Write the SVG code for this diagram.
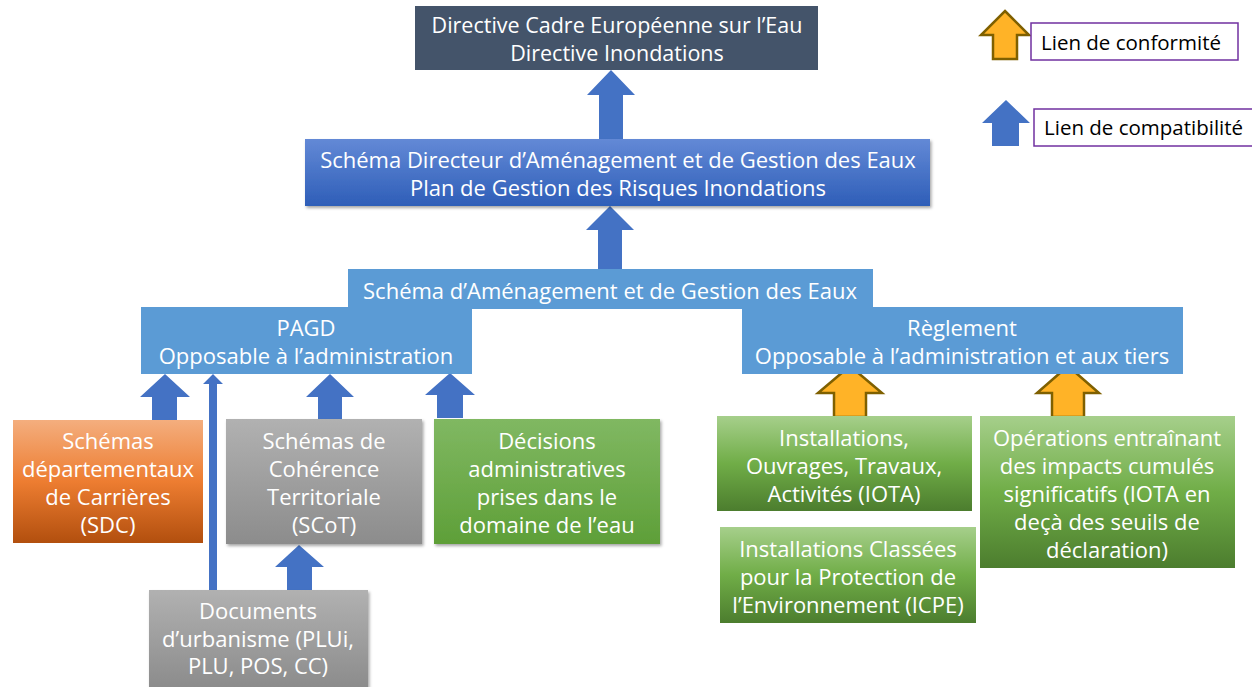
<svg xmlns="http://www.w3.org/2000/svg" width="1252" height="687" viewBox="0 0 1252 687">
<defs>
<linearGradient id="gBlue" x1="0" y1="0" x2="0" y2="1"><stop offset="0" stop-color="#6389D6"/><stop offset="1" stop-color="#2E5EB8"/></linearGradient>
<linearGradient id="gOrange" x1="0" y1="0" x2="0" y2="1"><stop offset="0" stop-color="#F4AE7E"/><stop offset="0.5" stop-color="#ED7D31"/><stop offset="1" stop-color="#B24F0E"/></linearGradient>
<linearGradient id="gGray" x1="0" y1="0" x2="0" y2="1"><stop offset="0" stop-color="#B1B1B1"/><stop offset="1" stop-color="#8C8C8C"/></linearGradient>
<linearGradient id="gGreenFlat" x1="0" y1="0" x2="0" y2="1"><stop offset="0" stop-color="#80B862"/><stop offset="1" stop-color="#5E9F38"/></linearGradient>
<linearGradient id="gGreen" x1="0" y1="0" x2="0" y2="1"><stop offset="0" stop-color="#A6CF8B"/><stop offset="0.5" stop-color="#70AD47"/><stop offset="1" stop-color="#4C7D2E"/></linearGradient>
<filter id="sh" x="-10%" y="-10%" width="120%" height="130%"><feDropShadow dx="1.5" dy="2" stdDeviation="1.5" flood-color="#000" flood-opacity="0.35"/></filter>
</defs>
<style>
text{font-family:"Open Sans","Noto Sans","DejaVu Sans",sans-serif;font-size:22px;fill:#fff;text-anchor:middle}
.top{font-size:21.5px}
.leg{font-family:"Open Sans","Liberation Sans",sans-serif;font-size:20.5px;fill:#000;text-anchor:start}
.light{fill:#5B9BD5}
.blueArrow{fill:#4472C4}
.orangeArrow{fill:#FFB327;stroke:#7F6000;stroke-width:2.5;stroke-linejoin:miter}
.legbox{fill:#fff;stroke:#7030A0;stroke-width:1.5}
</style>

<g id="connectors">
<polygon class="blueArrow" points="611,70 635,95 623,95 623,139 599,139 599,95 587,95"/>
<polygon class="blueArrow" points="610,206 634,230 622,230 622,269 598,269 598,230 586,230"/>
<polygon class="blueArrow" points="165,374 190,397 177,397 177,420 152,420 152,397 140,397"/>
<polygon class="blueArrow" points="213,374 223,384 217,384 217,591 209,591 209,384 203,384"/>
<polygon class="blueArrow" points="330,374 354,397 342,397 342,419 318,419 318,397 306,397"/>
<polygon class="blueArrow" points="450,373 475,395 463,395 463,418 437,418 437,395 425,395"/>
<polygon class="blueArrow" points="299,545 324,567 312,567 312,591 287,591 287,567 275,567"/>
<polygon class="orangeArrow" points="850,366 882,393 866,393 866,417 834,417 834,393 818,393"/>
<polygon class="orangeArrow" points="1068,366 1099,393 1084,393 1084,417 1052,417 1052,393 1037,393"/>
</g>

<g id="node-dce">
<rect x="415" y="6" width="403" height="64" fill="#44546A"/>
<text class="top" x="617" y="33">Directive Cadre Européenne sur l’Eau</text>
<text class="top" x="617" y="61">Directive Inondations</text>
</g>

<g id="node-sdage">
<rect x="305" y="139" width="625" height="67" fill="url(#gBlue)" filter="url(#sh)"/>
<text x="618" y="168">Schéma Directeur d’Aménagement et de Gestion des Eaux</text>
<text x="618" y="196">Plan de Gestion des Risques Inondations</text>
</g>

<g id="node-sage">
<rect class="light" x="348" y="269" width="525" height="40"/>
<text x="610" y="299">Schéma d’Aménagement et de Gestion des Eaux</text>
</g>

<g id="node-pagd">
<rect class="light" x="141" y="307" width="331" height="67"/>
<text x="306" y="336">PAGD</text>
<text x="306" y="364">Opposable à l’administration</text>
</g>

<g id="node-reglement">
<rect class="light" x="742" y="307" width="441" height="67"/>
<text x="962" y="336">Règlement</text>
<text x="962" y="364">Opposable à l’administration et aux tiers</text>
</g>

<g id="node-sdc">
<rect x="13" y="420" width="190" height="123" fill="url(#gOrange)"/>
<text x="108" y="449">Schémas</text>
<text x="108" y="477">départementaux</text>
<text x="108" y="505">de Carrières</text>
<text x="108" y="533">(SDC)</text>
</g>

<g id="node-scot">
<rect x="226" y="419" width="196" height="125" fill="url(#gGray)" filter="url(#sh)"/>
<text x="324" y="449">Schémas de</text>
<text x="324" y="477">Cohérence</text>
<text x="324" y="505">Territoriale</text>
<text x="324" y="533">(SCoT)</text>
</g>

<g id="node-decisions">
<rect x="434" y="419" width="226" height="125" fill="url(#gGreenFlat)" filter="url(#sh)"/>
<text x="547" y="449">Décisions</text>
<text x="547" y="477">administratives</text>
<text x="547" y="505">prises dans le</text>
<text x="547" y="533">domaine de l’eau</text>
</g>

<g id="node-documents">
<rect x="149" y="590" width="219" height="97" fill="url(#gGray)" filter="url(#sh)"/>
<text x="258" y="619">Documents</text>
<text x="258" y="647">d’urbanisme (PLUi,</text>
<text x="258" y="674">PLU, POS, CC)</text>
</g>

<g id="node-iota">
<rect x="717" y="416" width="255" height="95" fill="url(#gGreen)"/>
<text x="844" y="446">Installations,</text>
<text x="844" y="474">Ouvrages, Travaux,</text>
<text x="844" y="502">Activités (IOTA)</text>
</g>

<g id="node-icpe">
<rect x="720" y="527" width="256" height="96" fill="url(#gGreen)"/>
<text x="848" y="557">Installations Classées</text>
<text x="848" y="585">pour la Protection de</text>
<text x="848" y="613">l’Environnement (ICPE)</text>
</g>

<g id="node-operations">
<rect x="980" y="416" width="255" height="152" fill="url(#gGreen)"/>
<text x="1107" y="446">Opérations entraînant</text>
<text x="1107" y="474">des impacts cumulés</text>
<text x="1107" y="502">significatifs (IOTA en</text>
<text x="1107" y="530">deçà des seuils de</text>
<text x="1107" y="558">déclaration)</text>
</g>

<g id="legend-conformite">
<polygon class="orangeArrow" points="1005,11 1029,35 1017,35 1017,59 993,59 993,35 981,35"/>
<rect class="legbox" x="1031" y="23" width="207" height="37"/>
<text class="leg" x="1041" y="50">Lien de conformité</text>
</g>

<g id="legend-compatibilite">
<polygon class="blueArrow" points="1006,100 1030,123 1019,123 1019,146 992,146 992,123 982,123"/>
<rect class="legbox" x="1034" y="109" width="230" height="37"/>
<text class="leg" x="1044" y="135">Lien de compatibilité</text>
</g>
</svg>
